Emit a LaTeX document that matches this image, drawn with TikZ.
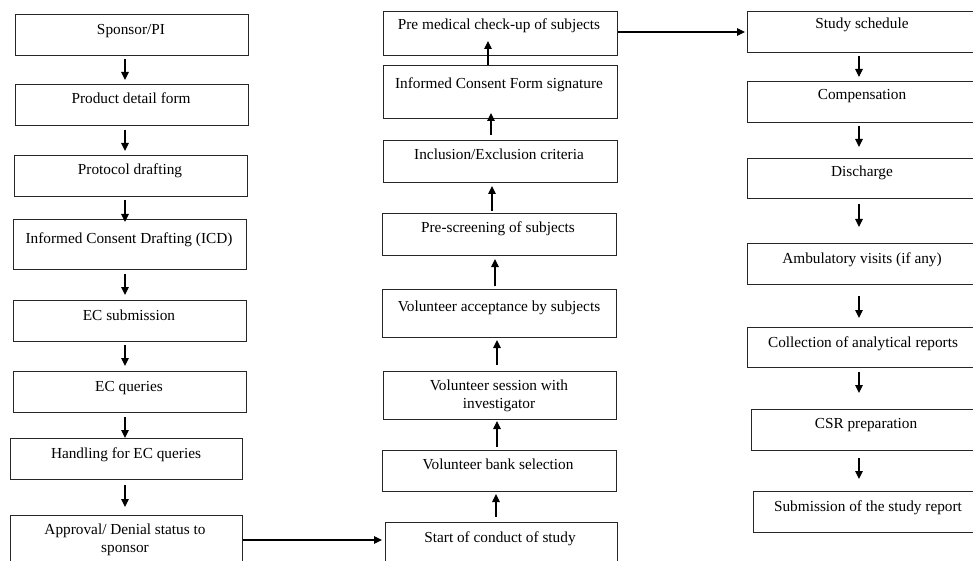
\documentclass[tikz,border=0pt]{standalone}
\usepackage{fontspec}
\setmainfont{Liberation Serif}
\usetikzlibrary{arrows.meta}
\newcommand\flowbox[7]{%
  \node[box,minimum width={(#4-#2)*1pt},minimum height={(#5-#3)*1pt}] (#1) at (#2,#3) {};
  \node[lbl] (#1-t) at (#6) {#7};}
\begin{document}
\begin{tikzpicture}[x=1pt,y=-1pt,
  box/.style={draw=black!85,line width=1pt,inner sep=0pt,anchor=north west},
  lbl/.style={anchor=base,inner sep=0pt,font=\fontsize{15.3}{17.5}\selectfont,align=center},
  arr/.style={line width=1.2pt,draw=black,-{Triangle[length=8pt,width=7.5pt]}}]
\useasboundingbox (0,0) rectangle (973,561);
\clip (0,0) rectangle (973,561);
% column 1
\flowbox{sponsor}{15}{14}{248}{55}{131,35}{Sponsor/PI}
\flowbox{product}{15}{84}{248}{125}{131,104}{Product detail form}
\flowbox{protocol}{14}{155}{247}{196}{130,175}{Protocol drafting}
\flowbox{icd}{13}{219}{246}{269}{129,243}{Informed Consent Drafting (ICD)}
\flowbox{ecsub}{13}{300}{246}{341}{129,320}{EC submission}
\flowbox{ecq}{13}{371}{246}{412}{129,391}{EC queries}
\flowbox{handling}{10}{438}{242}{479}{126,458}{Handling for EC queries}
\flowbox{approval}{10}{515}{242}{600}{125,552}{Approval/ Denial status to\\sponsor}
% column 2
\flowbox{premed}{383}{11}{617}{55}{499,30}{Pre medical check-up of subjects}
\flowbox{icf}{383}{65}{617}{118}{499,89}{Informed Consent Form signature}
\flowbox{incl}{383}{140}{617}{182}{499,160}{Inclusion/Exclusion criteria}
\flowbox{prescr}{382}{213}{616}{255}{498,233}{Pre-screening of subjects}
\flowbox{volacc}{382}{289}{616}{337}{499,311}{Volunteer acceptance by subjects}
\flowbox{session}{383}{371}{616}{419}{499,408}{Volunteer session with\\investigator}
\flowbox{bank}{382}{450}{616}{491}{498,469}{Volunteer bank selection}
\flowbox{start}{385}{522}{617}{600}{500,542}{Start of conduct of study}
% column 3
\flowbox{schedule}{747}{11}{976}{52}{862,29}{Study schedule}
\flowbox{comp}{747}{81}{976}{122}{862,100}{Compensation}
\flowbox{discharge}{747}{158}{976}{198}{862,177}{Discharge}
\flowbox{amb}{747}{243}{976}{284}{862,263}{Ambulatory visits (if any)}
\flowbox{coll}{747}{327}{976}{367}{863,347}{Collection of analytical reports}
\flowbox{csr}{751}{409}{981}{450}{866,428}{CSR preparation}
\flowbox{sub}{753}{491}{983}{532}{868,511}{Submission of the study report}
% arrow columns
\coordinate (c1) at (125,0);
\coordinate (c3) at (859,0);
\coordinate (k1) at (496,0);
\coordinate (k2) at (497,0);
\coordinate (k3) at (497,0);
\coordinate (k4) at (495,0);
\coordinate (k5) at (492,0);
\coordinate (k6) at (491,0);
\coordinate (k7) at (488,0);
% column 1 arrows
\draw[arr,shorten <=3pt,shorten >=4pt] (sponsor.south -| c1) -- (product.north -| c1);
\draw[arr,shorten <=4pt,shorten >=4pt] (product.south -| c1) -- (protocol.north -| c1);
\draw[arr,shorten <=3pt,shorten >=-3pt] (protocol.south -| c1) -- (icd.north -| c1);
\draw[arr,shorten <=4pt,shorten >=5pt] (icd.south -| c1) -- (ecsub.north -| c1);
\draw[arr,shorten <=3pt,shorten >=5pt] (ecsub.south -| c1) -- (ecq.north -| c1);
\draw[arr,shorten <=4pt,shorten >=0pt] (ecq.south -| c1) -- (handling.north -| c1);
\draw[arr,shorten <=5pt,shorten >=8pt] (handling.south -| c1) -- (approval.north -| c1);
% link to column 2
\draw[arr,shorten >=3pt] ([yshift=-25pt]approval.north east) -- ([yshift=-18pt]start.north west);
% column 2 arrows (upwards)
\draw[arr,shorten <=5pt,shorten >=2pt] (start.north -| k1) -- (bank.south -| k1);
\draw[arr,shorten <=3pt,shorten >=1pt] (bank.north -| k2) -- (session.south -| k2);
\draw[arr,shorten <=6pt,shorten >=2pt] (session.north -| k3) -- (volacc.south -| k3);
\draw[arr,shorten <=3pt,shorten >=3pt] (volacc.north -| k4) -- (prescr.south -| k4);
\draw[arr,shorten <=2pt,shorten >=3pt] (prescr.north -| k5) -- (incl.south -| k5);
\draw[arr,shorten <=5pt,shorten >=-6pt] (incl.north -| k6) -- (icf.south -| k6);
\draw[arr,shorten >=-15pt] (icf.north -| k7) -- (premed.south -| k7);
% link to column 3
\draw[arr,shorten >=2pt] ([yshift=-21pt]premed.north east) -- ([yshift=-21pt]schedule.north west);
% column 3 arrows
\draw[arr,shorten <=3pt,shorten >=4pt] (schedule.south -| c3) -- (comp.north -| c3);
\draw[arr,shorten <=3pt,shorten >=11pt] (comp.south -| c3) -- (discharge.north -| c3);
\draw[arr,shorten <=5pt,shorten >=16pt] (discharge.south -| c3) -- (amb.north -| c3);
\draw[arr,shorten <=11pt,shorten >=9pt] (amb.south -| c3) -- (coll.north -| c3);
\draw[arr,shorten <=4pt,shorten >=16pt] (coll.south -| c3) -- (csr.north -| c3);
\draw[arr,shorten <=7pt,shorten >=12pt] (csr.south -| c3) -- (sub.north -| c3);
\end{tikzpicture}
\end{document}
